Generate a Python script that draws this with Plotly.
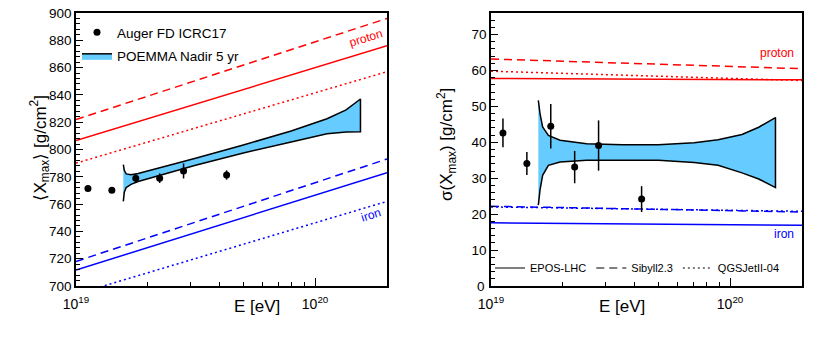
import numpy as np
import plotly.graph_objects as go
from plotly.subplots import make_subplots

# energies in log10(E/eV)
auger_lgE = [19.05, 19.15, 19.25, 19.35, 19.45, 19.63]
auger_xmax = [771.5, 770.2, 778.9, 779.0, 784.3, 781.3]
auger_xmax_err = [2.0, 2.0, 3.0, 3.5, 5.5, 3.4]
auger_sigma = [42.6, 34.1, 44.5, 33.1, 39.1, 24.2]
auger_sigma_err = [4.0, 3.2, 6.2, 4.5, 7.0, 3.6]

# model lines, values at E = 1e19 and 2e20
model_lgE = [19.0, 20.301]
xmax_proton = {"EPOS-LHC": [806.5, 876], "Sibyll2.3": [822, 896], "QGSJetII-04": [790, 857]}
xmax_iron = {"EPOS-LHC": [711.7, 783], "Sibyll2.3": [718, 793], "QGSJetII-04": [694, 762]}
sigma_proton = {"EPOS-LHC": [57.8, 57.4], "Sibyll2.3": [63.2, 60.5], "QGSJetII-04": [59.8, 57.2]}
sigma_iron = {"EPOS-LHC": [17.6, 16.9], "Sibyll2.3": [22.2, 20.6], "QGSJetII-04": [22.0, 20.8]}
dashes = {"EPOS-LHC": "solid", "Sibyll2.3": "8px,5px", "QGSJetII-04": "2px,3px"}

# POEMMA Nadir 5 yr band edges
band_lgE = [19.198, 19.202, 19.21, 19.23, 19.26, 19.35, 19.5, 19.7, 19.9, 20.05, 20.13, 20.19]
band_xmax_hi = [789, 784.7, 782.1, 781.5, 782.4, 786.5, 793.6, 803.3, 813.5, 822.5, 829.0, 837.0]
band_xmax_lo = [762, 768.7, 772.1, 774.5, 776.6, 781.1, 788.4, 797.5, 805.5, 811.5, 812.8, 813.0]

band2_lgE = [19.198, 19.205, 19.216, 19.24, 19.289, 19.4, 19.55, 19.7, 19.85, 19.95, 20.05, 20.12, 20.19]
band_sigma_hi = [51.7, 48.0, 44.3, 41.9, 40.6, 39.6, 39.3, 39.3, 39.9, 40.7, 42.2, 44.2, 46.9]
band_sigma_lo = [22.5, 26.7, 30.8, 33.6, 34.5, 35.0, 35.1, 35.0, 34.4, 33.6, 31.5, 29.8, 27.4]

sigma_ticks = [10, 20, 30, 40, 50, 60, 70]

FONT = "Liberation Sans, Arial, sans-serif"
BAND = "rgb(102,204,255)"
W, H = 830, 350
OFF = 8  # page body margin


def px(x):
    return (x - OFF) / W


def py(y):
    return 1 - (y - OFF) / H


def E(lg):
    return [10.0 ** v for v in lg]


fig = make_subplots(rows=1, cols=2)

# left panel
fig.add_trace(go.Scatter(
    x=E(band_lgE + band_lgE[::-1]), y=band_xmax_hi + band_xmax_lo[::-1],
    fill="toself", fillcolor=BAND, line=dict(color="black", width=1.5),
    mode="lines", name="POEMMA Nadir 5 yr", legend="legend", legendgroup="b", legendrank=2),
    row=1, col=1)
for name, vals in xmax_proton.items():
    fig.add_trace(go.Scatter(x=E(model_lgE), y=vals, mode="lines", showlegend=False,
                             line=dict(color="#ff0000", width=1.5, dash=dashes[name])), row=1, col=1)
for name, vals in xmax_iron.items():
    fig.add_trace(go.Scatter(x=E(model_lgE), y=vals, mode="lines", showlegend=False,
                             line=dict(color="#0000ff", width=1.5, dash=dashes[name])), row=1, col=1)
fig.add_trace(go.Scatter(
    x=E(auger_lgE), y=auger_xmax, mode="markers", name="Auger FD ICRC17",
    marker=dict(color="black", size=7),
    error_y=dict(type="data", array=auger_xmax_err, color="black", thickness=1.5, width=0),
    legend="legend", legendgroup="a", legendrank=1), row=1, col=1)

# right panel
fig.add_trace(go.Scatter(
    x=E(band2_lgE + band2_lgE[::-1]), y=band_sigma_hi + band_sigma_lo[::-1],
    fill="toself", fillcolor=BAND, line=dict(color="black", width=1.5),
    mode="lines", showlegend=False), row=1, col=2)
for name, vals in sigma_proton.items():
    fig.add_trace(go.Scatter(x=E(model_lgE), y=vals, mode="lines", showlegend=False,
                             line=dict(color="#ff0000", width=1.5, dash=dashes[name])), row=1, col=2)
for name, vals in sigma_iron.items():
    fig.add_trace(go.Scatter(x=E(model_lgE), y=vals, mode="lines", showlegend=False,
                             line=dict(color="#0000ff", width=1.5, dash=dashes[name])), row=1, col=2)
fig.add_trace(go.Scatter(
    x=E(auger_lgE), y=auger_sigma, mode="markers", showlegend=False,
    marker=dict(color="black", size=7),
    error_y=dict(type="data", array=auger_sigma_err, color="black", thickness=1.5, width=0)),
    row=1, col=2)
# legend entries for the models
for name in dashes:
    fig.add_trace(go.Scatter(x=[None], y=[None], mode="lines", name=name, legend="legend2",
                             line=dict(color="black", width=1.2, dash=dashes[name])), row=1, col=2)

minor_x = [k * 1e19 for k in range(2, 10)] + [2e20]
xaxis_style = dict(
    type="log", range=[19, 20.301], tickvals=[1e19, 1e20],
    ticktext=["10<sup>19</sup>", "10<sup>20</sup>"], ticks="inside", ticklen=8,
    tickwidth=1, tickcolor="black", showline=True, linecolor="black", linewidth=1.5,
    mirror=True, showgrid=False, zeroline=False, ticklabelstandoff=4,
    ticklabeloverflow="allow",
    tickfont=dict(family=FONT, size=14, color="black"),
    minor=dict(tickmode="array", tickvals=minor_x, ticks="inside", ticklen=4,
               tickcolor="black", showgrid=False),
)
yaxis_style = dict(
    ticks="inside", ticklen=7, tickwidth=1, tickcolor="black", showline=True,
    linecolor="black", linewidth=1.5, mirror=True, showgrid=False, zeroline=False,
    ticklabeloverflow="allow",
    tickfont=dict(family=FONT, size=13.5, color="black"),
)

fig.update_xaxes(**xaxis_style)
fig.update_yaxes(**yaxis_style)
fig.update_layout(
    xaxis=dict(domain=[px(76), px(387)]),
    xaxis2=dict(domain=[px(491), px(802)]),
    yaxis=dict(domain=[py(286), py(13)], range=[700, 900], dtick=20,
               minor=dict(dtick=4, ticks="inside", ticklen=4, tickcolor="black")),
    yaxis2=dict(domain=[py(286), py(13)], range=[0, 76], tickvals=sigma_ticks,
                minor=dict(tickmode="linear", tick0=0, dtick=2, ticks="inside", ticklen=4,
                           tickcolor="black")),
)

# the zero label of the sigma axis (plotly drops it at the corner)
fig.add_annotation(x=0, y=0, xref="x2 domain", yref="y2", text="0", showarrow=False,
                   xanchor="right", yanchor="middle", xshift=-4,
                   font=dict(family=FONT, size=13.5, color="black"))

fig.add_annotation(x=px(25), y=py(148), xref="paper", yref="paper", textangle=-90,
                   text="⟨X<sub>max</sub>⟩ [g/cm<sup>2</sup>]", showarrow=False,
                   font=dict(family=FONT, size=17, color="black"))
fig.add_annotation(x=px(446), y=py(145), xref="paper", yref="paper", textangle=-90,
                   text="σ(X<sub>max</sub>) [g/cm<sup>2</sup>]", showarrow=False,
                   font=dict(family=FONT, size=17, color="black"))
for cx in (232, 647):
    fig.add_annotation(x=px(cx), y=py(318), xref="paper", yref="paper",
                       text="E [eV]", showarrow=False,
                       font=dict(family=FONT, size=17, color="black"))

fig.add_annotation(x=20.213, y=881.5, xref="x", yref="y", text="proton", textangle=-17,
                   showarrow=False, font=dict(family=FONT, size=12, color="#ff0000"))
fig.add_annotation(x=20.234, y=752, xref="x", yref="y", text="iron", textangle=-17,
                   showarrow=False, font=dict(family=FONT, size=12, color="#0000ff"))
fig.add_annotation(x=20.197, y=65, xref="x2", yref="y2", text="proton",
                   showarrow=False, font=dict(family=FONT, size=12, color="#ff0000"))
fig.add_annotation(x=20.226, y=14.4, xref="x2", yref="y2", text="iron",
                   showarrow=False, font=dict(family=FONT, size=12, color="#0000ff"))

fig.update_layout(
    width=W, height=H, margin=dict(l=0, r=0, t=0, b=0, autoexpand=False),
    paper_bgcolor="white", plot_bgcolor="white",
    font=dict(family=FONT, color="black"),
    legend=dict(x=px(77), y=py(17), xanchor="left", yanchor="top",
                bgcolor="rgba(0,0,0,0)", traceorder="grouped", tracegroupgap=3,
                font=dict(family=FONT, size=13.5, color="black")),
    legend2=dict(x=px(490), y=py(268), xanchor="left", yanchor="middle",
                 orientation="h", bgcolor="rgba(0,0,0,0)",
                 font=dict(family=FONT, size=11, color="black")),
)

fig.write_html("out.html")
